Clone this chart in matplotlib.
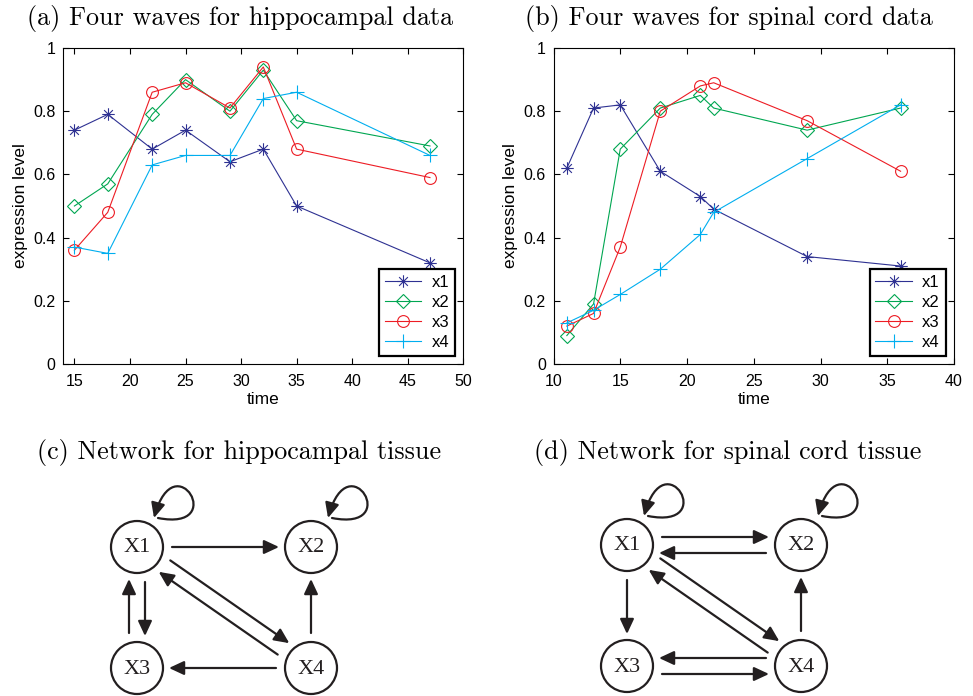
import matplotlib
matplotlib.use("Agg")
import matplotlib.pyplot as plt
from matplotlib.path import Path
from matplotlib.patches import Circle, FancyArrowPatch
from matplotlib.ticker import FuncFormatter

# ---- data ----
time_hippo = [15, 18, 22, 25, 29, 32, 35, 47]
hippo_x1 = [0.74, 0.79, 0.68, 0.74, 0.64, 0.68, 0.50, 0.32]
hippo_x2 = [0.50, 0.57, 0.79, 0.90, 0.80, 0.93, 0.77, 0.69]
hippo_x3 = [0.36, 0.48, 0.86, 0.89, 0.81, 0.94, 0.68, 0.59]
hippo_x4 = [0.37, 0.35, 0.63, 0.66, 0.66, 0.84, 0.86, 0.66]

time_spinal = [11, 13, 15, 18, 21, 22, 29, 36]
spinal_x1 = [0.62, 0.81, 0.82, 0.61, 0.53, 0.49, 0.34, 0.31]
spinal_x2 = [0.09, 0.19, 0.68, 0.81, 0.85, 0.81, 0.74, 0.81]
spinal_x3 = [0.12, 0.16, 0.37, 0.80, 0.88, 0.89, 0.77, 0.61]
spinal_x4 = [0.13, 0.17, 0.22, 0.30, 0.41, 0.48, 0.65, 0.82]

series_names = ["x1", "x2", "x3", "x4"]
yticks = [0, 0.2, 0.4, 0.6, 0.8, 1]
xticks_hippo = [15, 20, 25, 30, 35, 40, 45, 50]
xticks_spinal = [10, 15, 20, 25, 30, 35, 40]

nodes = ["X1", "X2", "X3", "X4"]
edges_hippo = [("X1", "X1"), ("X2", "X2"), ("X1", "X2"), ("X1", "X3"), ("X3", "X1"),
               ("X1", "X4"), ("X4", "X1"), ("X4", "X2"), ("X4", "X3")]
edges_spinal = [("X1", "X1"), ("X2", "X2"), ("X1", "X2"), ("X2", "X1"), ("X1", "X3"),
                ("X1", "X4"), ("X4", "X1"), ("X4", "X2"), ("X4", "X3"), ("X3", "X4")]

# ---- styles ----
colors = ["#2e3192", "#00a651", "#ed1c24", "#00aeef"]
asterisk = Path([(0, -1), (0, 1), (-1, 0), (1, 0), (-.7, -.7), (.7, .7), (-.7, .7), (.7, -.7)],
                [Path.MOVETO, Path.LINETO] * 4)
markers = [asterisk, "D", "o", "+"]
msizes = [9, 7.5, 8.5, 10]
ink = "#231f20"

W, H = 973, 696
fig = plt.figure(figsize=(W / 100, H / 100), dpi=100)
sans = "Liberation Sans"


def wave_panel(rect, t, ys, xlim, xticks):
    ax = fig.add_axes(rect)
    for vals, name, c, m, ms in zip(ys, series_names, colors, markers, msizes):
        ax.plot(t, vals, color=c, marker=m, ms=ms, mfc="none", mec=c, mew=0.8, lw=0.8, label=name)
    ax.set_xlim(xlim)
    ax.set_ylim(0, 1)
    ax.set_xticks(xticks)
    ax.set_yticks(yticks)
    ax.yaxis.set_major_formatter(FuncFormatter(lambda v, p: "%g" % v))
    ax.tick_params(direction="in", top=True, right=True, length=4, width=0.8, labelsize=11.5)
    ax.tick_params(axis="x", pad=7)
    ax.tick_params(axis="y", pad=5.5)
    for lab in ax.get_xticklabels() + ax.get_yticklabels():
        lab.set_family(sans)
    for s in ax.spines.values():
        s.set_linewidth(0.8)
    ax.set_xlabel("time", family=sans, fontsize=12.5, labelpad=2.5)
    ax.set_ylabel("expression level", family=sans, fontsize=12.5, labelpad=4)
    leg = ax.legend(loc="lower right", fancybox=False, edgecolor="k", framealpha=1,
                    prop={"family": sans, "size": 12}, handlelength=2.2, borderaxespad=0.5,
                    labelspacing=0.3, handletextpad=0.6, borderpad=0.35)
    leg.get_frame().set_linewidth(1.6)
    return ax


wave_panel([63.3 / W, 1 - 364 / H, 400 / W, 316 / H], time_hippo,
           [hippo_x1, hippo_x2, hippo_x3, hippo_x4], (14, 50), xticks_hippo)
wave_panel([553.5 / W, 1 - 364 / H, 400.5 / W, 316 / H], time_spinal,
           [spinal_x1, spinal_x2, spinal_x3, spinal_x4], (10, 40), xticks_spinal)

# ---- networks, drawn in pixel coordinates ----
net = fig.add_axes([0, 0, 1, 1])
net.set_xlim(0, W)
net.set_ylim(H, 0)
net.axis("off")

grid = {"X1": (0, 0), "X2": (1, 0), "X3": (0, 1), "X4": (1, 1)}
# side of a two-way pair, relative to the pair drawn in node order
lane = {("X1", "X2"): -1, ("X2", "X1"): 1, ("X1", "X3"): -1, ("X3", "X1"): 1,
        ("X1", "X4"): -1, ("X4", "X1"): 1, ("X3", "X4"): 1, ("X4", "X3"): -1}
R = 26
head = "-|>,head_length=0.9,head_width=0.42"


def draw_net(origin, edges):
    pos = {n: (origin[0] + 174 * grid[n][0], origin[1] + 121 * grid[n][1]) for n in nodes}
    for n in nodes:
        x, y = pos[n]
        net.add_patch(Circle((x, y), R, fill=False, lw=1.6, ec=ink))
        net.text(x, y + 1, n, ha="center", va="center", family="Liberation Serif", fontsize=16, color=ink)
    for u, v in edges:
        x0, y0 = pos[u]
        if u == v:
            # teardrop self loop on the upper right of the node
            p = Path([(x0 + 21, y0 - 29), (x0 + 92, y0 - 15), (x0 + 38, y0 - 105), (x0 + 17, y0 - 29)],
                     [Path.MOVETO, Path.CURVE4, Path.CURVE4, Path.CURVE4])
            net.add_patch(FancyArrowPatch(path=p, arrowstyle=head, mutation_scale=10, lw=1.6, color=ink))
            continue
        x1, y1 = pos[v]
        L = ((x1 - x0) ** 2 + (y1 - y0) ** 2) ** 0.5
        dx, dy = (x1 - x0) / L, (y1 - y0) / L
        off = 0
        if (v, u) in edges:
            a_, b_ = sorted([u, v])
            cx, cy = (pos[b_][0] - pos[a_][0]) / L, (pos[b_][1] - pos[a_][1]) / L
            off = 8 * lane[(u, v)]
            nx, ny = -cy, cx
        else:
            nx, ny = 0, 0
        a = (x0 + nx * off + dx * (R + 9), y0 + ny * off + dy * (R + 9))
        b = (x1 + nx * off - dx * (R + 6), y1 + ny * off - dy * (R + 6))
        net.add_patch(FancyArrowPatch(a, b, arrowstyle=head, mutation_scale=10, lw=1.6,
                                      color=ink, shrinkA=0, shrinkB=0))


draw_net((137, 547), edges_hippo)
draw_net((627, 545), edges_spinal)

# ---- panel titles ----
cm = "cmr10"
fig.text(240 / W, 1 - 18 / H, "(a) Four waves for hippocampal data", ha="center", va="center", family=cm, fontsize=18.8)
fig.text(729 / W, 1 - 18 / H, "(b) Four waves for spinal cord data", ha="center", va="center", family=cm, fontsize=18.8)
fig.text(239 / W, 1 - 453 / H, "(c) Network for hippocampal tissue", ha="center", va="center", family=cm, fontsize=18.8)
fig.text(728 / W, 1 - 453 / H, "(d) Network for spinal cord tissue", ha="center", va="center", family=cm, fontsize=18.8)

fig.savefig("out.png", dpi=100)
